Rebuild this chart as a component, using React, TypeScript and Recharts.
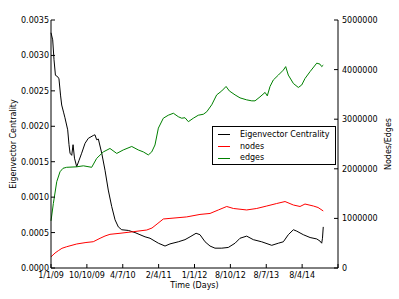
import { LineChart, Line, XAxis, YAxis, Legend, Label } from "recharts";

const FONT = "'DejaVu Sans', Verdana, sans-serif";

// x positions are days since 1/1/09
const xTicks = [0, 275, 550, 825, 1100, 1375, 1650, 1925, 2200];
const xTickLabels = ["1/1/09", "10/10/09", "4/7/10", "2/4/11", "1/1/12", "8/10/12", "8/7/13", "8/4/14", ""];
const leftTicks = [0, 0.0005, 0.001, 0.0015, 0.002, 0.0025, 0.003, 0.0035];
const rightTicks = [0, 1000000, 2000000, 3000000, 4000000, 5000000];
const seriesNames = ["Eigenvector Centrality", "nodes", "edges"];

const centralityDays = [
  0, 13, 23, 34, 51, 61, 73, 82, 96, 107, 128, 138, 146, 159, 169, 180, 197, 215, 235, 261,
  286, 324, 337, 350, 363, 389, 414, 439, 465, 491, 516, 542, 593, 644, 682, 721, 759, 823,
  874, 912, 976, 1027, 1066, 1112, 1142, 1181, 1219, 1257, 1309, 1359, 1411, 1449, 1500,
  1551, 1615, 1692, 1743, 1781, 1819, 1858, 1884, 1934, 1986, 2037, 2062, 2075, 2081, 2087,
];
const centrality = [
  0.00332, 0.00322, 0.00294, 0.00272, 0.0027, 0.00267, 0.00244, 0.0023, 0.0022, 0.00212,
  0.00195, 0.00174, 0.00162, 0.00159, 0.00174, 0.00155, 0.00143, 0.00152, 0.00162, 0.00176,
  0.00183, 0.00187, 0.00188, 0.00181, 0.00182, 0.00162, 0.00138, 0.0011, 0.00087, 0.00068,
  0.00058, 0.00054, 0.00053, 0.0005, 0.00047, 0.00044, 0.00042, 0.00035, 0.00031, 0.00034,
  0.00037, 0.0004, 0.00044, 0.00049, 0.00047, 0.00037, 0.00031, 0.00028, 0.00028, 0.00029,
  0.00035, 0.00042, 0.00045, 0.0004, 0.00037, 0.00032, 0.00035, 0.00037, 0.00047, 0.00054,
  0.00052, 0.00047, 0.00043, 0.00041, 0.00038, 0.00035, 0.00042, 0.00058,
];

const nodeDays = [
  0, 31, 56, 84, 120, 197, 268, 324, 376, 414, 452, 529, 631, 734, 774, 813, 861, 912, 1040,
  1142, 1219, 1283, 1347, 1398, 1500, 1577, 1654, 1730, 1794, 1858, 1909, 1947, 2011, 2047, 2087,
];
const nodes = [
  225000, 302000, 349000, 397000, 429000, 484000, 514000, 530000, 599000, 645000, 679000,
  700000, 732000, 766000, 806000, 887000, 988000, 1000000, 1030000, 1080000, 1100000,
  1170000, 1240000, 1200000, 1170000, 1200000, 1250000, 1300000, 1340000, 1270000, 1240000,
  1290000, 1250000, 1220000, 1150000,
];

const edgeDays = [
  0, 18, 44, 69, 92, 120, 197, 248, 312, 350, 401, 452, 504, 554, 619, 669, 708, 746, 772,
  797, 823, 861, 899, 938, 976, 1002, 1027, 1053, 1091, 1129, 1168, 1194, 1232, 1270, 1309,
  1342, 1367, 1411, 1449, 1500, 1539, 1564, 1602, 1641, 1658, 1679, 1704, 1743, 1781, 1799,
  1819, 1858, 1896, 1922, 1947, 1986, 2037, 2062, 2075, 2087,
];
const edges = [
  950000, 1300000, 1740000, 1940000, 2010000, 2030000, 2040000, 2060000, 2030000, 2210000,
  2340000, 2410000, 2310000, 2380000, 2450000, 2380000, 2340000, 2280000, 2340000, 2480000,
  2820000, 3020000, 3080000, 3120000, 3050000, 3020000, 3030000, 2950000, 3020000, 3080000,
  3100000, 3150000, 3290000, 3490000, 3570000, 3660000, 3570000, 3490000, 3430000, 3390000,
  3370000, 3370000, 3450000, 3540000, 3470000, 3660000, 3790000, 3890000, 3990000, 4060000,
  3890000, 3720000, 3640000, 3690000, 3820000, 3960000, 4130000, 4110000, 4060000, 4090000,
];

const centralityData = centralityDays.map((day, i) => ({ day, value: centrality[i] }));
const nodeData = nodeDays.map((day, i) => ({ day, value: nodes[i] }));
const edgeData = edgeDays.map((day, i) => ({ day, value: edges[i] }));

const BottomTick = ({ x, y, payload }: any) => (
  <g>
    <line x1={x} y1={y} x2={x} y2={y - 4} stroke="#000" />
    <text x={x} y={y + 10} textAnchor="middle" fontSize={8} fontFamily={FONT} fill="#000">
      {xTickLabels[xTicks.indexOf(payload.value)]}
    </text>
  </g>
);

const TopTick = ({ x, y }: any) => <line x1={x} y1={y} x2={x} y2={y + 4} stroke="#000" />;

const LeftTick = ({ x, y, payload }: any) => (
  <g>
    <line x1={x} y1={y} x2={x + 4} y2={y} stroke="#000" />
    <text x={x - 2} y={y + 3} textAnchor="end" fontSize={8} fontFamily={FONT} fill="#000">
      {payload.value.toFixed(4)}
    </text>
  </g>
);

const RightTick = ({ x, y, payload }: any) => (
  <g>
    <line x1={x} y1={y} x2={x - 4} y2={y} stroke="#000" />
    <text x={x + 4} y={y + 3} textAnchor="start" fontSize={8} fontFamily={FONT} fill="#000">
      {payload.value.toFixed(0)}
    </text>
  </g>
);

const LegendBox = ({ payload }: any) => {
  const items = [...(payload || [])].sort(
    (a: any, b: any) => seriesNames.indexOf(a.value) - seriesNames.indexOf(b.value)
  );
  return (
    <div
      style={{
        border: "1px solid #000",
        background: "#fff",
        width: 124,
        height: 39,
        boxSizing: "border-box",
        fontFamily: FONT,
        fontSize: 8,
        paddingTop: 2,
        whiteSpace: "nowrap",
      }}
    >
      {items.map((entry: any) => (
        <div key={entry.value} style={{ display: "flex", alignItems: "center", height: 11.7 }}>
          <div style={{ width: 12, height: 1, background: entry.color, marginLeft: 5, marginRight: 10, flex: "none" }} />
          <span style={{ color: "#000", lineHeight: "10px" }}>{entry.value}</span>
        </div>
      ))}
    </div>
  );
};

export default function App() {
  return (
    <div style={{ position: "absolute", left: 0, top: 0, width: 399, height: 299, background: "#fff" }}>
      <LineChart width={399} height={299} margin={{ top: 20, right: 6, bottom: 11, left: 6 }}>
        <XAxis
          xAxisId="bottom"
          dataKey="day"
          type="number"
          domain={[0, 2200]}
          ticks={xTicks}
          tickSize={0}
          tickMargin={0}
          tickLine={false}
          tick={<BottomTick />}
          height={20}
          axisLine={{ stroke: "#000" }}
          interval={0}
        >
          <Label
            content={({ viewBox }: any) => (
              <text
                x={viewBox.x + viewBox.width / 2}
                y={viewBox.y + 20}
                textAnchor="middle"
                fontSize={8}
                fontFamily={FONT}
                fill="#000"
              >
                Time (Days)
              </text>
            )}
          />
        </XAxis>
        <XAxis
          xAxisId="top"
          orientation="top"
          dataKey="day"
          type="number"
          domain={[0, 2200]}
          ticks={xTicks}
          tickSize={0}
          tickMargin={0}
          tickLine={false}
          tick={<TopTick />}
          height={0}
          axisLine={{ stroke: "#000" }}
          interval={0}
        >
          <Label
            content={({ viewBox }: any) => (
              <text
                x={viewBox.x + viewBox.width / 2}
                y={viewBox.y - 4}
                textAnchor="middle"
                fontSize={10}
                fontFamily={FONT}
                fill="#000"
              >
                Evolution of Eigenvector Centrality
              </text>
            )}
          />
        </XAxis>
        <YAxis
          yAxisId="left"
          type="number"
          domain={[0, 0.0035]}
          ticks={leftTicks}
          tickSize={0}
          tickMargin={0}
          tickLine={false}
          tick={<LeftTick />}
          width={45}
          axisLine={{ stroke: "#000" }}
          interval={0}
        >
          <Label
            content={({ viewBox }: any) => {
              const cx = 13;
              const cy = viewBox.y + viewBox.height / 2;
              return (
                <text
                  x={cx}
                  y={cy}
                  transform={`rotate(-90 ${cx} ${cy})`}
                  textAnchor="middle"
                  dominantBaseline="central"
                  fontSize={8}
                  fontFamily={FONT}
                  fill="#000"
                >
                  Eigenvector Centrality
                </text>
              );
            }}
          />
        </YAxis>
        <YAxis
          yAxisId="right"
          orientation="right"
          type="number"
          domain={[0, 5000000]}
          ticks={rightTicks}
          tickSize={0}
          tickMargin={0}
          tickLine={false}
          tick={<RightTick />}
          width={55}
          axisLine={{ stroke: "#000" }}
          interval={0}
        >
          <Label
            content={({ viewBox }: any) => {
              const cx = 388;
              const cy = viewBox.y + viewBox.height / 2;
              return (
                <text
                  x={cx}
                  y={cy}
                  transform={`rotate(-90 ${cx} ${cy})`}
                  textAnchor="middle"
                  dominantBaseline="central"
                  fontSize={8}
                  fontFamily={FONT}
                  fill="#000"
                >
                  Nodes/Edges
                </text>
              );
            }}
          />
        </YAxis>
        <Legend
          layout="horizontal"
          align="center"
          verticalAlign="middle"
          content={<LegendBox />}
          wrapperStyle={{ position: "absolute", left: 212, top: 126, width: 124, height: 39 }}
        />
        <Line
          xAxisId="bottom"
          yAxisId="left"
          data={centralityData}
          dataKey="value"
          name="Eigenvector Centrality"
          stroke="#000000"
          strokeWidth={1}
          dot={false}
          type="linear"
          isAnimationActive={false}
        />
        <Line
          xAxisId="bottom"
          yAxisId="right"
          data={nodeData}
          dataKey="value"
          name="nodes"
          stroke="#ff0000"
          strokeWidth={1}
          dot={false}
          type="linear"
          isAnimationActive={false}
        />
        <Line
          xAxisId="bottom"
          yAxisId="right"
          data={edgeData}
          dataKey="value"
          name="edges"
          stroke="#008000"
          strokeWidth={1}
          dot={false}
          type="linear"
          isAnimationActive={false}
        />
      </LineChart>
    </div>
  );
}
